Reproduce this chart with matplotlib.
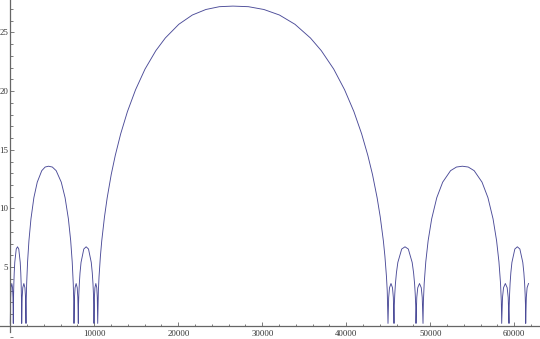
import numpy as np
import matplotlib
matplotlib.use("Agg")
from matplotlib import pyplot as plt
from matplotlib.ticker import MultipleLocator

# curve, one list per arch
spike_y = [0.2, 2.41, 3.24, 3.6, 3.24, 2.41, 0.2]
med_y = [0.2, 1.79, 2.69, 3.59, 4.51, 5.40, 6.54, 6.73, 6.54, 5.40, 4.51, 3.59, 2.69, 1.79, 0.2]
big_y = [0.2, 2.09, 3.62, 5.44, 7.25, 9.11, 10.92, 12.24, 13.22, 13.53, 13.6,
         13.53, 13.22, 12.24, 10.92, 9.11, 7.25, 5.44, 3.62, 2.09, 0.2]
huge_y = [0.2, 3.0, 4.2, 5.93, 7.25, 9.27, 10.9, 12.89, 14.52, 16.36, 18.26, 20.12, 21.88,
          23.45, 24.53, 25.70, 26.49, 26.96, 27.20, 27.25,
          27.20, 26.96, 26.49, 25.70, 24.53, 23.45, 21.88, 20.12, 18.26, 16.36, 14.52,
          12.89, 10.9, 9.27, 7.25, 5.93, 4.2, 3.0, 0.2]

s1_x = [0, 39, 89, 178, 267, 317, 357]
m1_x = [357, 372, 392, 422, 467, 532, 707, 857, 1007, 1182, 1247, 1292, 1322, 1342, 1357]
s2_x = [1357, 1413, 1485, 1613, 1741, 1813, 1869]
b1_x = [1869, 1896, 1949, 2057, 2218, 2459, 2807, 3209, 3746, 4148, 4550,
        5005, 5460, 6067, 6521, 6916, 7189, 7371, 7492, 7553, 7583]
s3_x = [7583, 7639, 7711, 7839, 7967, 8039, 8095]
m2_x = [8095, 8123, 8160, 8217, 8301, 8422, 8749, 9030, 9311, 9638, 9759, 9843, 9900, 9937, 9964]
s4_x = [9964, 10012, 10074, 10184, 10294, 10356, 10405]
huge_x = [10405, 10485, 10566, 10727, 10888, 11210, 11532, 12014, 12497, 13141, 13946, 14912,
          16038, 17326, 18452, 20062, 21671, 23281, 24890, 26500,
          28347, 30193, 32040, 33886, 35733, 37025, 38502, 39795, 40903, 41826, 42565,
          43119, 43672, 44042, 44411, 44596, 44780, 44873, 44965]
s5_x = [44965, 45044, 45144, 45322, 45500, 45600, 45679]
m3_x = [45679, 45718, 45771, 45849, 45967, 46137, 46596, 46989, 47382, 47841, 48011, 48129, 48207, 48260, 48298]
s6_x = [48298, 48390, 48506, 48715, 48924, 49040, 49133]
b2_x = [49133, 49180, 49274, 49461, 49742, 50163, 50772, 51475, 52412, 53114, 53817,
        54520, 55222, 56159, 56862, 57471, 57892, 58173, 58360, 58454, 58501]
s7_x = [58501, 58596, 58718, 58935, 59152, 59274, 59369]
m4_x = [59369, 59399, 59439, 59498, 59588, 59717, 60065, 60364, 60663, 61011, 61140, 61230, 61289, 61329, 61358]
s8_x = [61358, 61431, 61524, 61691]
s8_y = [0.2, 2.41, 3.24, 3.6]

x_ticks = [10000, 20000, 30000, 40000, 50000, 60000]
y_ticks = [5, 10, 15, 20, 25]

xs = (s1_x + m1_x + s2_x + b1_x + s3_x + m2_x + s4_x + huge_x
      + s5_x + m3_x + s6_x + b2_x + s7_x + m4_x + s8_x)
ys = (spike_y + med_y + spike_y + big_y + spike_y + med_y + spike_y + huge_y
      + spike_y + med_y + spike_y + big_y + spike_y + med_y + s8_y)

fig = plt.figure(figsize=(5.4, 3.39), dpi=100)
ax = fig.add_axes([0, 0, 1, 1])
ax.plot(xs, ys, color='#4b4b98', lw=0.65, solid_joinstyle='round')

ax.set_xlim(-1226, 63060)
ax.set_ylim(-1.13, 27.77)

axis_col = '#666666'
for s in ['top', 'right']:
    ax.spines[s].set_visible(False)
ax.spines['left'].set_position(('data', 0))
ax.spines['bottom'].set_position(('data', 0))
ax.spines['left'].set_bounds(-0.5, 27.77)
for s in ['left', 'bottom']:
    ax.spines[s].set_color(axis_col)
    ax.spines[s].set_linewidth(0.9)

ax.set_xticks(x_ticks)
ax.set_yticks(y_ticks)
ax.xaxis.set_minor_locator(MultipleLocator(2000))
ax.yaxis.set_minor_locator(MultipleLocator(1))
ax.tick_params(which='both', direction='in', color=axis_col, width=0.6)
ax.tick_params(which='major', length=3.2)
ax.tick_params(which='minor', length=1.8)
ax.tick_params(axis='x', which='major', pad=3)
ax.tick_params(axis='y', which='major', pad=1.5)
for lab in ax.get_xticklabels() + ax.get_yticklabels():
    lab.set_fontfamily('Liberation Serif')
    lab.set_fontsize(6.3)
    lab.set_color('#333333')

fig.savefig('out.png', dpi=100)
